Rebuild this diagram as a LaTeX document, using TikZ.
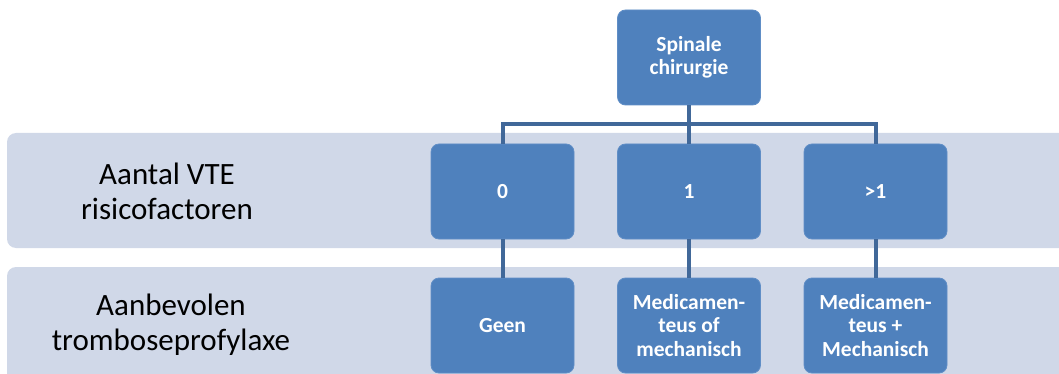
\documentclass[tikz,border=0pt]{standalone}
\usepackage{fontspec}
\setmainfont{Carlito}
\definecolor{boxblue}{RGB}{79,129,189}
\definecolor{boxedge}{RGB}{96,142,198}
\definecolor{bandcol}{RGB}{208,216,232}
\definecolor{conncol}{RGB}{65,104,153}
\begin{document}
\begin{tikzpicture}[x=1pt,y=-1pt,
  bluebox/.style={fill=boxblue,draw=boxedge,line width=0.8pt,rounded corners=8pt,
    minimum width=143pt,minimum height=95pt,inner sep=2pt,align=center,
    text=white,font=\fontsize{21.5}{23.5}\selectfont\bfseries},
  bandlabel/.style={align=center,text=black,font=\fontsize{31}{35}\selectfont},
  conn/.style={draw=conncol,line width=4pt}]
\useasboundingbox (0,0) rectangle (1059,374);
\clip (0,0) rectangle (1059,374);
% bands
\fill[bandcol,rounded corners=9pt] (7,133) rectangle (1090,248);
\fill[bandcol,rounded corners=9pt] (7,267) rectangle (1090,382);
\node[bandlabel] (la) at (167,191) {Aantal VTE\\risicofactoren};
\node[bandlabel] (lb) at (171,325) {Aanbevolen\\tromboseprofylaxe};
\coordinate (hub) at (689,124);
\node[bluebox] (top) at (689,57.5) {Spinale\\chirurgie};
\node[bluebox] (r0) at (502.5,191.5) {0};
\node[bluebox] (r1) at (689,191.5) {1};
\node[bluebox] (r2) at (875.5,191.5) {>1};
\node[bluebox] (b0) at (502.5,325.5) {Geen};
\node[bluebox] (b1) at (689,325.5) {Medicamen-\\teus of\\mechanisch};
\node[bluebox] (b2) at (875.5,325.5) {Medicamen-\\teus +\\Mechanisch};
\draw[conn] (top.south) -- (r1.north);
\draw[conn] (r0.north) |- (hub) -| (r2.north);
\draw[conn] (r0.south) -- (b0.north);
\draw[conn] (r1.south) -- (b1.north);
\draw[conn] (r2.south) -- (b2.north);
\end{tikzpicture}
\end{document}
